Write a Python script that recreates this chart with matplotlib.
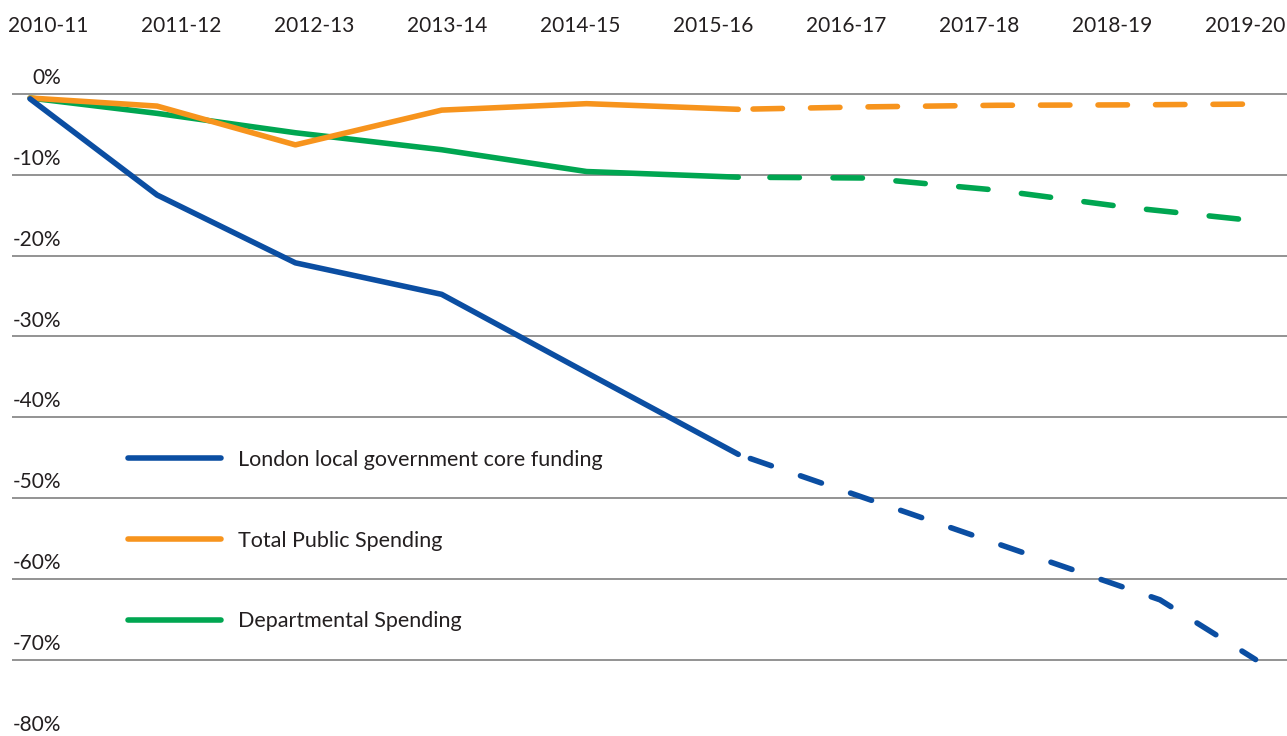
import matplotlib.pyplot as plt
from matplotlib.lines import Line2D

plt.rcParams['font.family'] = ['Lato', 'DejaVu Sans']

years = ['2010-11', '2011-12', '2012-13', '2013-14', '2014-15',
         '2015-16', '2016-17', '2017-18', '2018-19', '2019-20']

# outturn (solid) section, x given in year slots
x_actual = [-0.135, 0.82, 1.86, 2.96, 4.05, 5.19]
london_actual = [-0.6, -12.5, -20.9, -24.8, -34.5, -44.6]
total_actual = [-0.5, -1.5, -6.3, -2.0, -1.2, -1.9]
dept_actual = [-0.5, -2.4, -4.8, -6.9, -9.6, -10.3]

# projected (dashed) section
x_london_proj = [5.19, 8.36, 9.08]
london_proj = [-44.6, -62.6, -70.0]
x_proj = [5.19, 6.14, 7.13, 8.10, 9.08]
total_proj = [-1.9, -1.6, -1.4, -1.35, -1.25]
dept_proj = [-10.3, -10.4, -11.9, -14.0, -15.7]

y_ticks = [0, -10, -20, -30, -40, -50, -60, -70, -80]
y_labels = ['0%', '-10%', '-20%', '-30%', '-40%', '-50%', '-60%', '-70%', '-80%']

blue = '#0b4ea2'
orange = '#f7941d'
green = '#00a651'
text_col = '#231f20'

fig = plt.figure(figsize=(12.87, 7.36), dpi=100)
ax = fig.add_axes([0, 0, 1, 1])
ax.set_xlim(-0.361, 9.316)
ax.set_ylim(-79.46, 11.63)
ax.axis('off')

# horizontal gridlines with labels sitting above them
for v, lab in zip(y_ticks, y_labels):
    if v > -80:
        ax.hlines(v, -0.27, 9.4, color='#8a8a8a', lw=1.3, zorder=1)
    ax.text(0.098, v + 1.2, lab, ha='right', va='baseline',
            fontsize=15, color=text_col)

for i, yr in enumerate(years):
    ax.text(i, 7.67, yr, ha='center', va='baseline', fontsize=15, color=text_col)

lw = 4.0
series = [
    (x_actual, dept_actual, x_proj, dept_proj, green, (5.65, (5.3, 6.05))),
    (x_actual, total_actual, x_proj, total_proj, orange, (7.69, (5.3, 5.05))),
    (x_actual, london_actual, x_london_proj, london_proj, blue, (7.24, (4.0, 5.54))),
]
for xa, ya, xp, yp, c, dash in series:
    ax.plot(xa, ya, color=c, lw=lw, solid_joinstyle='round', solid_capstyle='round', zorder=3)
    ax.plot(xp, yp, color=c, lw=lw, linestyle=dash, dash_capstyle='round',
            dash_joinstyle='round', zorder=3)

handles = [Line2D([], [], color=blue, lw=lw, solid_capstyle='round'),
           Line2D([], [], color=orange, lw=lw, solid_capstyle='round'),
           Line2D([], [], color=green, lw=lw, solid_capstyle='round')]
labels = ['London local government core funding', 'Total Public Spending',
          'Departmental Spending']
leg = ax.legend(handles, labels, loc='upper left', bbox_to_anchor=(128 / 1287, 1 - 450 / 736),
                frameon=False, fontsize=15.5, handlelength=4.3, handletextpad=0.8,
                labelspacing=2.82, borderpad=0, borderaxespad=0)
for t in leg.get_texts():
    t.set_color(text_col)

fig.savefig('out.png', dpi=100)
